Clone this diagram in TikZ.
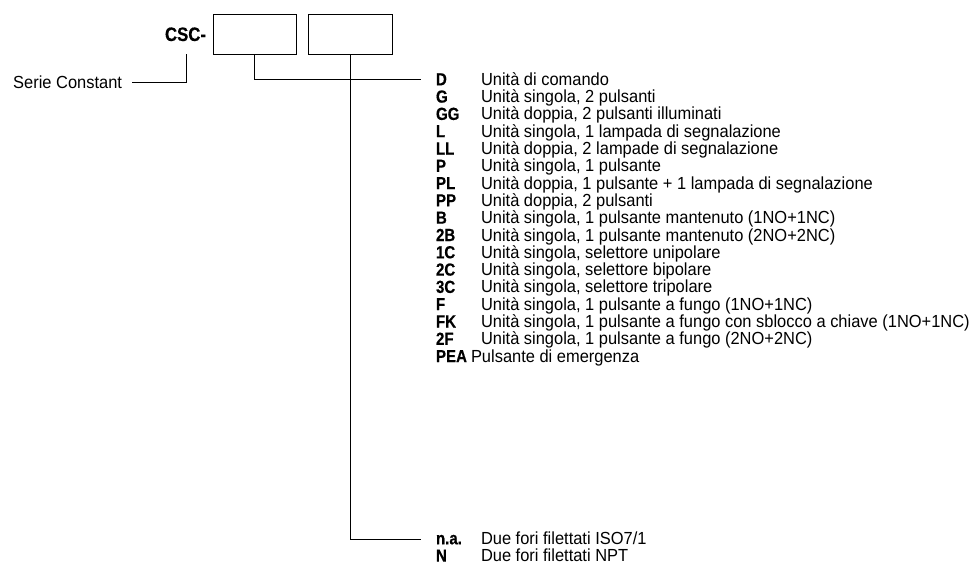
\documentclass[tikz,border=0pt]{standalone}
\usepackage{fontspec}
\setmainfont{Liberation Sans}[FakeStretch=0.94,BoldFeatures={FakeStretch=0.86,FakeBold=0.4}]
\begin{document}
\begin{tikzpicture}[x=1pt,y=-1pt,
  every node/.style={inner sep=0pt,outer sep=0pt,font=\fontsize{17.5}{21}\selectfont},
  code/.style={anchor=base west,font=\fontsize{17.5}{21}\selectfont\bfseries},
  desc/.style={anchor=base west},
  codebox/.style={draw,line width=0.9pt,minimum width=83pt,minimum height=40pt},
  conn/.style={line width=0.9pt}]
\useasboundingbox (0,0) rectangle (971,570);
\node[code,anchor=base east,font=\fontsize{19.5}{22}\selectfont\bfseries] (csc) at (206,41) {CSC-};
\node[codebox] (b1) at (254.5,34.3) {};
\node[codebox,minimum width=84pt] (b2) at (350,34.3) {};
\node[desc,anchor=base east] (serie) at (122,88.3) {Serie Constant};
\coordinate (s1) at (186,54);
\draw[conn] (s1) |- ([xshift=10pt]serie.east);
\node[code] (cD)   at (436,85.3)  {D};   \node[desc] at (481,85.3)  {Unità di comando};
\node[code] (cG)   at (436,102.6) {G};   \node[desc] at (481,102.6) {Unità singola, 2 pulsanti};
\node[code] (cGG)  at (436,119.9) {GG};  \node[desc] at (481,119.9) {Unità doppia, 2 pulsanti illuminati};
\node[code] (cL)   at (436,137.2) {L};   \node[desc] at (481,137.2) {Unità singola, 1 lampada di segnalazione};
\node[code] (cLL)  at (436,154.5) {LL};  \node[desc] at (481,154.5) {Unità doppia, 2 lampade di segnalazione};
\node[code] (cP)   at (436,171.8) {P};   \node[desc] at (481,171.8) {Unità singola, 1 pulsante};
\node[code] (cPL)  at (436,189.1) {PL};  \node[desc] at (481,189.1) {Unità doppia, 1 pulsante + 1 lampada di segnalazione};
\node[code] (cPP)  at (436,206.4) {PP};  \node[desc] at (481,206.4) {Unità doppia, 2 pulsanti};
\node[code] (cB)   at (436,223.7) {B};   \node[desc] at (481,223.7) {Unità singola, 1 pulsante mantenuto (1NO+1NC)};
\node[code] (c2B)  at (436,241.0) {2B};  \node[desc] at (481,241.0) {Unità singola, 1 pulsante mantenuto (2NO+2NC)};
\node[code] (c1C)  at (436,258.3) {1C};  \node[desc] at (481,258.3) {Unità singola, selettore unipolare};
\node[code] (c2C)  at (436,275.6) {2C};  \node[desc] at (481,275.6) {Unità singola, selettore bipolare};
\node[code] (c3C)  at (436,292.9) {3C};  \node[desc] at (481,292.9) {Unità singola, selettore tripolare};
\node[code] (cF)   at (436,310.2) {F};   \node[desc] at (481,310.2) {Unità singola, 1 pulsante a fungo (1NO+1NC)};
\node[code] (cFK)  at (436,327.5) {FK};  \node[desc] at (481,327.5) {Unità singola, 1 pulsante a fungo con sblocco a chiave (1NO+1NC)};
\node[code] (c2F)  at (436,344.8) {2F};  \node[desc] at (481,344.8) {Unità singola, 1 pulsante a fungo (2NO+2NC)};
\node[code] (cPEA) at (436,362.1) {PEA}; \node[desc] at (471,362.1) {Pulsante di emergenza};
\node[code] (cna)  at (436,544.3) {n.a.}; \node[desc] at (481,544.3) {Due fori filettati ISO7/1};
\node[code] (cN)   at (436,561.6) {N};   \node[desc] at (481,561.6) {Due fori filettati NPT};
\draw[conn] (b1.south) |- ([xshift=-15pt]cD.west);
\draw[conn] (b2.south) |- ([xshift=-15pt]cna.west);
\end{tikzpicture}
\end{document}
